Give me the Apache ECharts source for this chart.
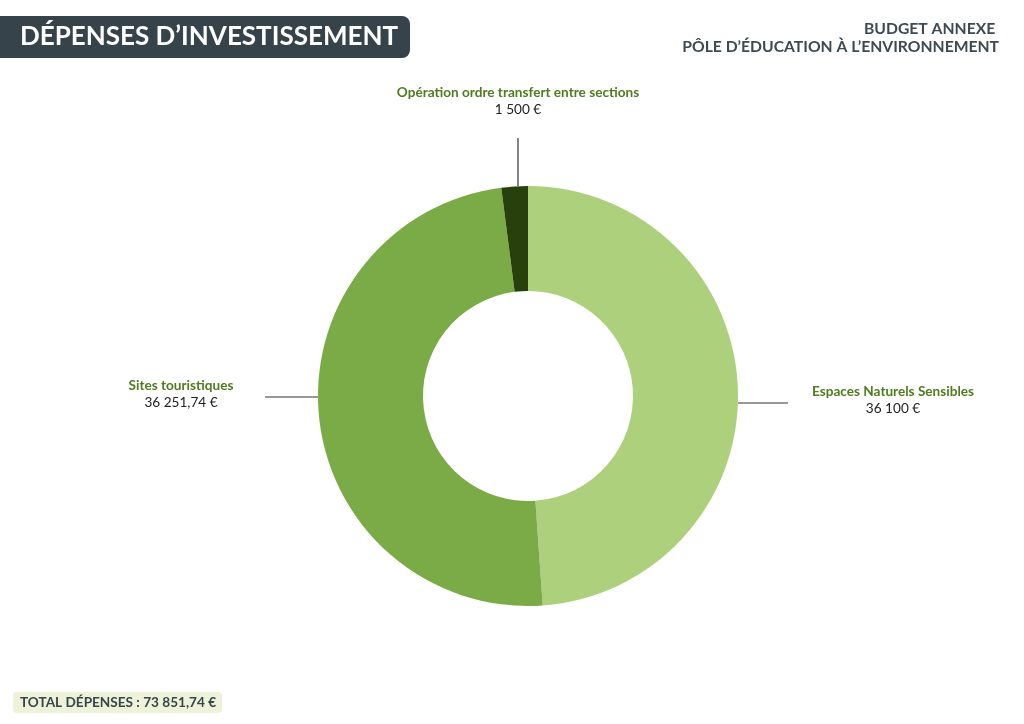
<!DOCTYPE html>
<html>
<head>
<meta charset="utf-8">
<script src="https://cdn.jsdelivr.net/npm/echarts@6/dist/echarts.min.js"></script>
<style>
html,body{margin:0;padding:0;background:#fff;}
#main{width:1024px;height:724px;}
</style>
</head>
<body>
<div id="main"></div>
<script>
var categories = ['Espaces Naturels Sensibles', 'Sites touristiques', 'Opération ordre transfert entre sections'];
var values = [36100, 36251.74, 1500];
var valueLabels = ['36 100 €', '36 251,74 €', '1 500 €'];
var titleText = 'DÉPENSES D\u2019INVESTISSEMENT';
var subtitleLines = ['BUDGET ANNEXE ', 'PÔLE D\u2019ÉDUCATION À L\u2019ENVIRONNEMENT'];
var totalText = 'TOTAL DÉPENSES : 73 851,74 €';
var colors = ['#acd07b', '#7bab46', '#28400b'];

var FONT = 'Lato, "Open Sans", sans-serif';
var chart = echarts.init(document.getElementById('main'));

// label placement (layout only)
var labelPos = [
  {x: 893, y: 400, line: [[738, 403], [788, 403]]},
  {x: 181, y: 394, line: [[318, 397], [265, 397]]},
  {x: 518, y: 101, line: [[518, 186], [518, 138]]}
];

chart.setOption({
  backgroundColor: '#ffffff',
  graphic: [
    {type: 'rect', shape: {x: -10, y: 16, width: 420, height: 42, r: [0, 8, 8, 0]}, style: {fill: '#36434b'}},
    {type: 'text', x: 20, y: 37, style: {text: titleText, fill: '#ffffff', font: 'bold 26px ' + FONT, textVerticalAlign: 'middle'}},
    {type: 'text', x: 999, y: 29, style: {text: subtitleLines[0], fill: '#3d4a52', font: 'bold 15.7px ' + FONT, textAlign: 'right', textVerticalAlign: 'middle'}},
    {type: 'text', x: 999, y: 47, style: {text: subtitleLines[1], fill: '#3d4a52', font: 'bold 15.7px ' + FONT, textAlign: 'right', textVerticalAlign: 'middle'}},
    {type: 'rect', shape: {x: 13, y: 692, width: 209, height: 21, r: 4}, style: {fill: '#eef2d9'}},
    {type: 'text', x: 20, y: 703, style: {text: totalText, fill: '#38454d', font: 'bold 13.6px ' + FONT, textVerticalAlign: 'middle'}}
  ],
  series: [{
    type: 'pie',
    center: [528, 396],
    radius: [105, 210],
    startAngle: 90,
    clockwise: true,
    avoidLabelOverlap: false,
    silent: true,
    itemStyle: {borderWidth: 0},
    label: {
      show: true,
      position: 'outside',
      formatter: function (p) { return '{n|' + p.name + '}\n{v|' + valueLabels[p.dataIndex] + '}'; },
      rich: {
        n: {fontFamily: FONT, fontWeight: 'bold', fontSize: 13.6, color: '#4e7c1f', lineHeight: 17, align: 'center'},
        v: {fontFamily: FONT, fontSize: 13.6, color: '#222222', lineHeight: 17, align: 'center'}
      }
    },
    labelLine: {show: true, length: 20, length2: 20, lineStyle: {color: '#333333', width: 1.2}},
    labelLayout: function (params) {
      var lp = labelPos[params.dataIndex];
      return {x: lp.x, y: lp.y, align: 'center', verticalAlign: 'middle', labelLinePoints: lp.line};
    },
    data: categories.map(function (c, i) {
      return {name: c, value: values[i], itemStyle: {color: colors[i]}};
    })
  }]
});
</script>
</body>
</html>
